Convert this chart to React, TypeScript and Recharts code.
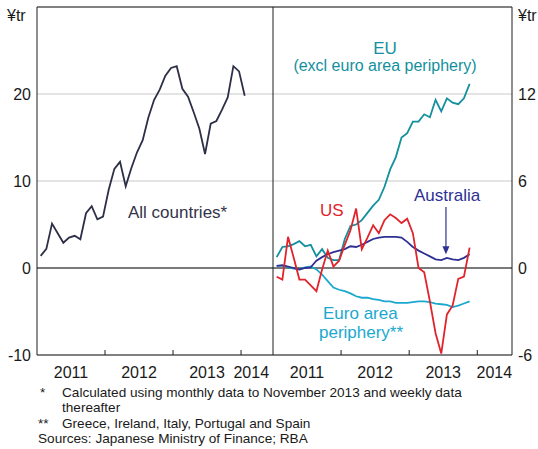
import { LineChart, Line, XAxis, YAxis, CartesianGrid, ReferenceLine } from 'recharts'

// monthly observations, Jan 2011 onwards
const leftMonths = Array.from({ length: 37 }, (_, i) => 2011 + (i + 0.65) / 12)
const rightMonths = Array.from({ length: 35 }, (_, i) => 2011 + (i + 0.65) / 12)

const allCountries = [
  1.4, 2.2, 5.1, 4.0, 2.9, 3.5, 3.7, 3.3, 6.3, 7.1, 5.6, 5.9, 9.0, 11.4, 12.2, 9.4, 11.5, 13.3, 14.7,
  17.3, 19.3, 20.5, 22.1, 23.0, 23.2, 20.6, 19.7, 17.9, 16.0, 13.1, 16.6, 16.9, 18.2, 19.6, 23.2, 22.6,
  19.8,
]

const eu = [
  0.75, 1.45, 1.5, 1.65, 1.85, 1.5, 1.6, 0.8, 1.3, 0.7, 0.55, 0.55, 2.0, 2.9, 3.0, 3.3, 3.8, 4.3, 4.7,
  5.6, 6.8, 7.65, 9.0, 9.3, 10.1, 10.1, 10.6, 10.4, 11.6, 10.8, 11.7, 11.4, 11.3, 11.7, 12.7,
]

const us = [
  -0.6, -0.8, 2.15, 0.7, -0.8, -0.8, -1.2, -1.6, -0.1, 1.2, 0.1, 0.5, 1.6, 2.6, 4.1, 1.3, 2.1, 2.95,
  2.4, 3.3, 3.7, 3.45, 3.1, 3.4, 2.4, 0.0, -0.3, -2.3, -4.5, -5.9, -3.2, -2.6, -0.75, -0.6, 1.4,
]

const australia = [
  0.15, 0.2, 0.1, 0.0, -0.1, 0.0, 0.05, 0.5, 0.75, 0.95, 1.1, 1.2, 1.3, 1.5, 1.45, 1.6, 1.8, 2.0, 2.1,
  2.15, 2.15, 2.15, 2.1, 1.8, 1.45, 1.2, 1.0, 0.8, 0.6, 0.55, 0.7, 0.6, 0.55, 0.7, 0.95,
]

const periphery = [
  0.15, 0.15, 0.05, -0.05, -0.1, 0.05, 0.1, -0.1, -0.45, -0.9, -1.35, -1.5, -1.6, -1.75, -1.95, -2.05,
  -2.05, -2.15, -2.2, -2.3, -2.3, -2.4, -2.4, -2.4, -2.35, -2.3, -2.3, -2.35, -2.45, -2.5, -2.55, -2.7,
  -2.6, -2.45, -2.3,
]

const leftTicksY = [-10, 0, 10, 20]
const rightTicksY = [-6, 0, 6, 12]
// integer values = year boundary marks, fractional = year labels
const leftTicksX = [2011.5, 2012, 2012.5, 2013, 2013.5, 2014, 2014.15]
const rightTicksX = [2011.5, 2012, 2012.5, 2013, 2013.5, 2014, 2014.25]

const leftData = leftMonths.map((t, i) => ({ t, all: allCountries[i] }))
const rightData = rightMonths.map((t, i) => ({
  t,
  eu: eu[i],
  us: us[i],
  au: australia[i],
  per: periphery[i],
}))

const FRAME = '#1e1e1e'
const GRID = '#c9c9c9'
const ZERO = '#7a7a7a'
const C_ALL = '#2d2f48'
const C_EU = '#13909d'
const C_US = '#e1232b'
const C_AU = '#2e3192'
const C_PER = '#1ba8cf'

function YearTick(props: any) {
  const { x, y, payload } = props
  const v = payload.value
  if (Number.isInteger(v)) {
    // small mark pointing up from the axis line
    return <line x1={x} x2={x} y1={y - 12} y2={y - 17} stroke={FRAME} strokeWidth={1} />
  }
  return (
    <text x={x} y={y} dy="0.71em" textAnchor="middle" fontSize={16} fill="#1a1a1a">
      {Math.floor(v)}
    </text>
  )
}

function Arrow(props: any) {
  const { x1, y1, x2, y2 } = props
  return (
    <g>
      <line x1={x1} y1={y1} x2={x2} y2={y2 - 6} stroke={C_AU} strokeWidth={1.2} />
      <path d={`M${x2 - 3.5},${y2 - 8} L${x2 + 3.5},${y2 - 8} L${x2},${y2} Z`} fill={C_AU} />
    </g>
  )
}

const tickStyle = { fontSize: 16, fill: '#1a1a1a' }

export default function App() {
  return (
    <div
      style={{
        position: 'absolute',
        left: 0,
        top: 0,
        width: 538,
        height: 449,
        background: '#fff',
        fontFamily: '"Liberation Sans", Arial, sans-serif',
      }}
    >
      <div style={{ position: 'absolute', left: 0, top: 0 }}>
        <LineChart width={280} height={449} data={leftData} margin={{ top: 7, right: 7, bottom: 64, left: 0 }}>
          <CartesianGrid vertical={false} stroke={GRID} />
          <XAxis
            dataKey="t"
            type="number"
            domain={[2011, 2014.47]}
            allowDataOverflow
            ticks={leftTicksX}
            interval={0}
            tick={<YearTick />}
            tickLine={false}
            tickSize={6}
            tickMargin={6}
            height={30}
            axisLine={{ stroke: FRAME }}
          />
          <YAxis
            domain={[-10, 30]}
            ticks={leftTicksY}
            width={37}
            tickLine={false}
            tickSize={6}
            tickMargin={0}
            tick={tickStyle}
            axisLine={{ stroke: FRAME }}
          />
          <ReferenceLine y={30} stroke={FRAME} />
          <ReferenceLine y={0} stroke={ZERO} strokeWidth={2} />
          <Line
            dataKey="all"
            stroke={C_ALL}
            strokeWidth={1.8}
            dot={false}
            isAnimationActive={false}
          />
        </LineChart>
      </div>
      <div style={{ position: 'absolute', left: 266, top: 0 }}>
        <LineChart width={272} height={449} data={rightData} margin={{ top: 7, right: 0, bottom: 64, left: 0 }}>
          <CartesianGrid vertical={false} stroke={GRID} yAxisId="r" />
          <XAxis
            dataKey="t"
            type="number"
            domain={[2011, 2014.51]}
            allowDataOverflow
            ticks={rightTicksX}
            interval={0}
            tick={<YearTick />}
            tickLine={false}
            tickSize={6}
            tickMargin={6}
            height={30}
            axisLine={{ stroke: FRAME }}
          />
          <YAxis
            yAxisId="l"
            orientation="left"
            domain={[-6, 18]}
            width={7}
            tick={false}
            tickLine={false}
            axisLine={{ stroke: FRAME }}
          />
          <YAxis
            yAxisId="r"
            orientation="right"
            domain={[-6, 18]}
            ticks={rightTicksY}
            width={26}
            tickLine={false}
            tickSize={6}
            tickMargin={0}
            tick={tickStyle}
            axisLine={{ stroke: FRAME }}
          />
          <ReferenceLine yAxisId="r" y={18} stroke={FRAME} />
          <ReferenceLine yAxisId="r" y={0} stroke={ZERO} strokeWidth={2} />
          <Line yAxisId="r" dataKey="per" stroke={C_PER} strokeWidth={1.8} dot={false} isAnimationActive={false} />
          <Line yAxisId="r" dataKey="eu" stroke={C_EU} strokeWidth={1.8} dot={false} isAnimationActive={false} />
          <Line yAxisId="r" dataKey="au" stroke={C_AU} strokeWidth={1.8} dot={false} isAnimationActive={false} />
          <Line yAxisId="r" dataKey="us" stroke={C_US} strokeWidth={1.8} dot={false} isAnimationActive={false} />
          <ReferenceLine
            yAxisId="r"
            segment={[
              { x: 2013.54, y: 4.2 },
              { x: 2013.54, y: 0.95 },
            ]}
            shape={<Arrow />}
          />
        </LineChart>
      </div>
      <svg
        width={538}
        height={449}
        style={{ position: 'absolute', left: 0, top: 0, pointerEvents: 'none' }}
      >
        <text x={7} y={20.5} fontSize={16} fill="#1a1a1a">¥tr</text>
        <text x={518} y={20.5} fontSize={16} fill="#1a1a1a">¥tr</text>
        <text x={128} y={217.5} fontSize={17} fill="#33334a">All countries*</text>
        <text x={385} y={53.5} fontSize={17} fill={C_EU} textAnchor="middle">EU</text>
        <text x={385} y={71} fontSize={16} fill={C_EU} textAnchor="middle">(excl euro area periphery)</text>
        <text x={320} y={215.5} fontSize={17} fill={C_US}>US</text>
        <text x={414} y={201} fontSize={17} fill={C_AU}>Australia</text>
        <text x={323} y={319} fontSize={17} fill={C_PER}>Euro area</text>
        <text x={319} y={337.5} fontSize={17} fill={C_PER}>periphery**</text>
        <g fontSize={13.6} fill="#1a1a1a">
          <text x={40} y={397}>*</text>
          <text x={62} y={397}>Calculated using monthly data to November 2013 and weekly data</text>
          <text x={62} y={412}>thereafter</text>
          <text x={38} y={427.5}>**</text>
          <text x={62} y={427.5}>Greece, Ireland, Italy, Portugal and Spain</text>
          <text x={38} y={443}>Sources: Japanese Ministry of Finance; RBA</text>
        </g>
      </svg>
    </div>
  )
}
